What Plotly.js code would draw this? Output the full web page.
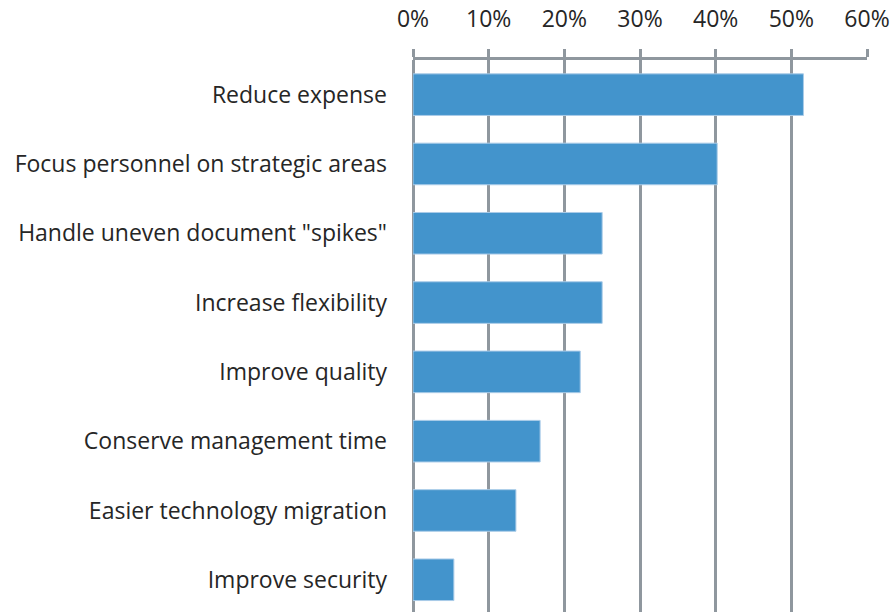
<!DOCTYPE html>
<html>
<head>
<meta charset="utf-8">
<script src="https://cdn.plot.ly/plotly-3.0.1.min.js"></script>
<style>html,body{margin:0;padding:0;background:#fff}#chart{width:895px;height:612px}</style>
</head>
<body>
<div id="chart"></div>
<script>
const categories = [
  "Reduce expense",
  "Focus personnel on strategic areas",
  "Handle uneven document \"spikes\"",
  "Increase flexibility",
  "Improve quality",
  "Conserve management time",
  "Easier technology migration",
  "Improve security"
];
const values = [0.516, 0.402, 0.25, 0.25, 0.221, 0.168, 0.136, 0.054];
const tickVals = [0, 0.1, 0.2, 0.3, 0.4, 0.5, 0.6];
const tickLabels = ["0%", "10%", "20%", "30%", "40%", "50%", "60%"];

const grid = "#8f979e";
const font = {family: "'Open Sans', sans-serif", size: 23, color: "#262626"};

Plotly.newPlot("chart", [{
  type: "bar",
  orientation: "h",
  x: values,
  y: categories,
  width: 0.6,
  marker: {color: "#4394cc", line: {color: "#a9cbe8", width: 1}},
  hoverinfo: "none"
}], {
  width: 895, height: 612,
  margin: {l: 413, r: 28, t: 60, b: 0, autoexpand: false},
  paper_bgcolor: "#fff", plot_bgcolor: "#fff",
  font: font,
  showlegend: false,
  xaxis: {
    side: "top", range: [0, 0.6], fixedrange: true,
    tickvals: tickVals, ticktext: tickLabels,
    showgrid: true, gridcolor: grid, gridwidth: 3,
    zeroline: true, zerolinecolor: grid, zerolinewidth: 3,
    showline: true, linecolor: grid, linewidth: 3,
    ticks: "outside", ticklen: 8, tickwidth: 3, tickcolor: grid,
    ticklabelstandoff: 13,
    tickfont: font, automargin: false
  },
  yaxis: {
    type: "category", range: [7.465, -0.5], fixedrange: true,
    showgrid: false, zeroline: false, showline: false,
    ticks: "", ticklabelstandoff: 25,
    tickfont: font, automargin: false
  }
}, {displayModeBar: false, staticPlot: true});
</script>
</body>
</html>
